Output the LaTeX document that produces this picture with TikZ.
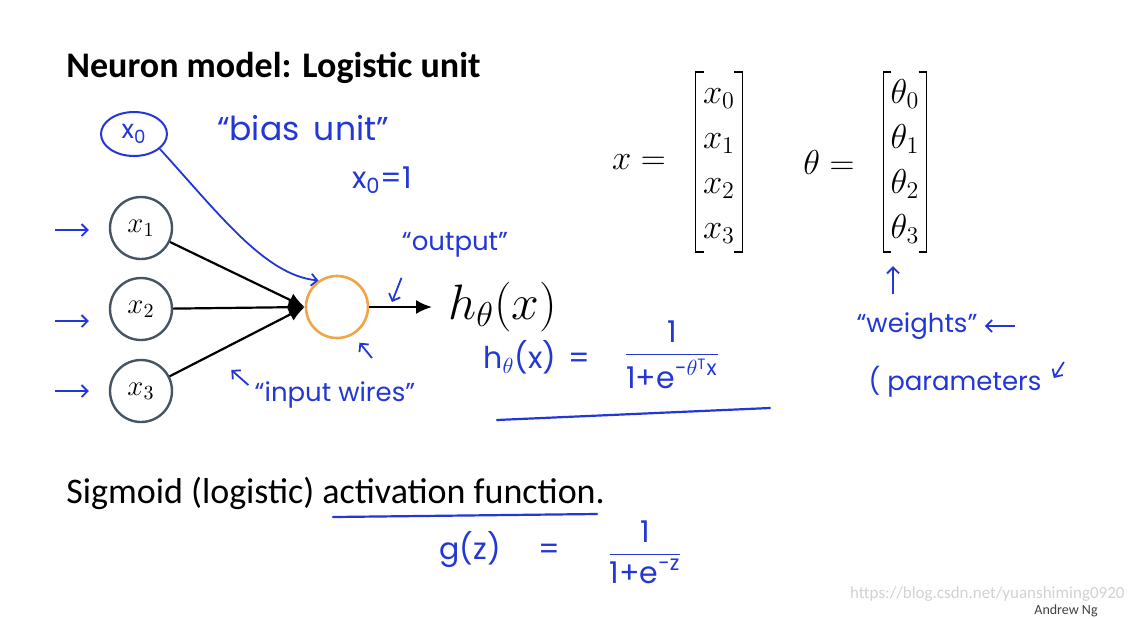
\documentclass[tikz,border=0pt]{standalone}
\usepackage{amsmath,amssymb}
\usepackage{fontspec}
\setmainfont{Carlito}
\newfontfamily\handfont{Poppins}
\usetikzlibrary{arrows.meta,shapes.geometric,positioning}
\definecolor{inkblue}{RGB}{35,55,215}
\definecolor{unitgray}{RGB}{70,85,100}
\definecolor{unitorange}{RGB}{240,165,70}
\renewcommand{\arraystretch}{1.04}

\begin{document}
\begin{tikzpicture}[x=0.5pt, y=-0.5pt,
  every node/.style={inner sep=0pt},
  unit/.style={circle, draw=unitgray, line width=1.2pt, minimum size=31pt, font=\fontsize{14}{17}\selectfont},
  sigmunit/.style={circle, draw=unitorange, line width=1.3pt, minimum size=31pt},
  hand/.style={text=inkblue, font=\handfont\fontsize{13}{16}\selectfont},
  bighand/.style={text=inkblue, font=\handfont\fontsize{15}{18}\selectfont},
  vec/.style={font=\fontsize{18}{21.6}\selectfont},
  entries/.style={vec, inner xsep=3.5pt, inner ysep=0pt},
  brk/.style={line width=0.8pt},
  wire/.style={line width=1.1pt, -{Latex[length=8pt,width=7pt]}},
  handarr/.style={draw=inkblue, line width=0.9pt, -{Straight Barb[length=3pt,width=6pt]}},
  ink/.style={draw=inkblue, line width=1.1pt, line cap=round},
]
\useasboundingbox[fill=white] (0,0) rectangle (1132,618);

\node[font=\bfseries\fontsize{18}{22}\selectfont, anchor=base west] (title) at (66,77) {Neuron model: Logistic unit};

% the unit
\node[ellipse, draw=inkblue, line width=1pt, minimum width=33pt, minimum height=22pt, hand] (x0) at (134,134) {x\textsubscript{0}};
\node[unit] (x1) at (141,228) {$x_1$};
\node[unit] (x2) at (141,309) {$x_2$};
\node[unit] (x3) at (141,391) {$x_3$};
\node[sigmunit] (out) at (337,307) {};
\node[anchor=west, inner sep=8pt, font=\fontsize{26}{30}\selectfont] (hx) at (432,307) {$h_\theta(x)$};

\foreach \i in {1,2,3}
  \draw[wire] (x\i) -- (out.west);
\draw[wire] (out) -- (hx.west);

% vectors
\node[vec] (xeq) at (639,162) {$x =$};
\node[entries] (xent) at (719,162) {$\begin{matrix} x_0\\ x_1\\ x_2\\ x_3 \end{matrix}$};
\node[vec] (theq) at (829,162) {$\theta =$};
\node[entries] (thent) at (905,162) {$\begin{matrix} \theta_0\\ \theta_1\\ \theta_2\\ \theta_3 \end{matrix}$};
\foreach \v in {xent,thent}{
  \draw[brk] ([xshift=4pt]\v.north west) -- (\v.north west) -- (\v.south west) -- ++(4pt,0);
  \draw[brk] ([xshift=-4pt]\v.north east) -- (\v.north east) -- (\v.south east) -- ++(-4pt,0);
}

% notes
\node[bighand, font=\handfont\fontsize{16.5}{19}\selectfont] (bias) at (303,128) {“bias\, unit”};
\node[bighand] (xone) at (382,180) {x\textsubscript{0}=1};
\draw[handarr] (x0.-30) .. controls (220,215) and (265,275) .. (out.125);
\foreach \i/\dy in {1/-1pt,2/-6pt,3/0pt}
  \draw[handarr] ([shift={(-27pt,\dy)}]x\i.west) -- ([shift={(-10pt,\dy)}]x\i.west);

\node[hand] (outlbl) at (455,245) {“output”};
\coordinate (outtip) at (392,302);
\draw[handarr] ([yshift=-10pt]outlbl.south west) -- (outtip);
\coordinate (sumtail) at (372,358);
\draw[handarr, shorten >=5pt] (sumtail) -- (out.-60);

\node[hand] (wires) at (335,395) {“input wires”};
\draw[handarr] ([shift={(-3pt,5pt)}]wires.west) -- ++(-8.5pt,7.5pt);

\node[bighand] (hlhs) at (537,357) {h$_\theta$(x) \,=};
\node[bighand] (hrhs) at (672,355) {$\dfrac{\text{1}}{\text{1+e}^{\text{-}\theta^{\text{T}}\text{x}}}$};
\draw[ink] (497,420) -- (770,408);

\node[hand] (wts) at (917,326) {“weights”};
\draw[handarr] ([shift={(-12pt,9pt)}]wts.north) -- ++(0,14pt);
\draw[handarr] ([xshift=18.5pt]wts.east) -- ([xshift=3.5pt]wts.east);
\node[hand] (params) at (955,382) {( parameters};
\draw[handarr] ([shift={(11pt,10pt)}]params.east) -- ++(-5pt,-8pt);

% activation
\node[font=\fontsize{18}{22}\selectfont, anchor=base west] (sigm) at (66,503) {Sigmoid (logistic) activation function.};
\draw[ink] (333,517) -- (597,514);
\node[bighand] (gzl) at (500,550) {g(z) \quad =};
\node[bighand] (gzr) at (645,552) {$\dfrac{\text{1}}{\text{1+e}^{\text{-z}}}$};

\node[font=\fontsize{8.5}{10}\selectfont, text=gray!35, anchor=base east] (mark) at (1125,598) {https://blog.csdn.net/yuanshiming0920};
\node[font=\fontsize{7}{8}\selectfont, text=black!75, anchor=base east] (author) at (1098,614) {Andrew Ng};
\end{tikzpicture}
\end{document}
